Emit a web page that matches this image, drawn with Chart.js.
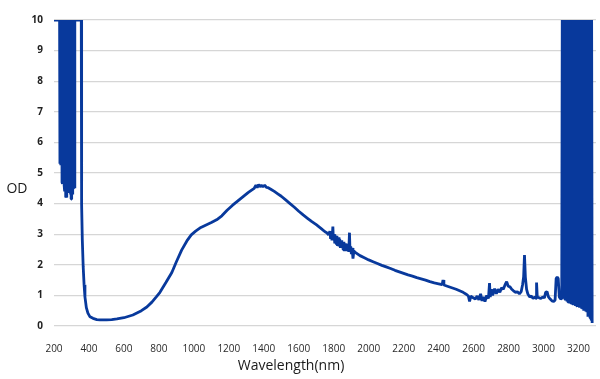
<!DOCTYPE html>
<html><head><meta charset="utf-8">
<script src="https://cdn.jsdelivr.net/npm/chart.js@4/dist/chart.umd.min.js"></script>
<style>html,body{margin:0;padding:0;background:#fff;}</style>
</head><body>
<canvas id="c" width="600" height="379"></canvas>
<script>
// UV cut-off region (saturated, noisy band)
const uvNm = [200,215,232,234,236,238,240,242,244,246,248,250,252,254,256,258,260,262,264,266,268,270,272,274,276,278,280,282,284,286,288,290,292,294,296,298,300,302,304,306,308,310,312,314,316,318,320,340,356];
const uvOd = [10,10,10,5.3,10,5.25,10,5.3,10,4.7,10,4.65,10,4.7,10,4.6,10,4.4,10,4.2,10,4.25,10,4.2,10,4.35,10,4.5,10,4.5,10,4.45,10,4.3,10,4.15,10,4.15,10,4.3,10,4.5,10,4.55,10,4.5,10,10,10];
// Main absorption curve
const mainNm = [358,362,367,372,377,385,394,406,423,445,463,500,530,560,600,651,700,731,760,785,806,840,874,900,930,960,985,1010,1040,1070,1100,1130,1160,1190,1220,1250,1280,1310,1330,1345,1355,1362,1370,1378,1386,1395,1405,1415,1425,1440,1460,1480,1500,1525,1550,1575,1600,1625,1650,1675,1700,1725,1750];
const mainOd = [3.95,2.8,1.93,1.35,0.95,0.6,0.42,0.3,0.25,0.21,0.2,0.2,0.21,0.23,0.27,0.36,0.5,0.62,0.78,0.95,1.1,1.42,1.75,2.1,2.48,2.78,2.98,3.1,3.22,3.3,3.38,3.47,3.6,3.78,3.94,4.08,4.22,4.36,4.44,4.5,4.6,4.52,4.62,4.55,4.6,4.55,4.6,4.53,4.52,4.47,4.4,4.32,4.24,4.12,4.0,3.88,3.75,3.63,3.52,3.41,3.31,3.2,3.08];
// Noisy section around 1800 nm
const noiseNm = [1760,1770,1778,1782,1786,1790,1795,1798,1802,1806,1810,1814,1818,1822,1826,1830,1834,1838,1842,1846,1850,1854,1858,1862,1866,1870,1874,1878,1882,1886,1890,1893,1897,1901,1905,1910,1915,1925];
const noiseOd = [3.05,2.98,3.1,2.85,3.05,2.8,3.25,2.8,3.0,2.7,2.95,2.68,2.95,2.62,2.9,2.6,2.85,2.55,2.8,2.55,2.75,2.5,2.75,2.45,2.7,2.48,2.68,2.45,2.65,2.42,3.05,2.45,2.6,2.35,2.55,2.2,2.45,2.4];
// Tail towards mid-IR
const tailNm = [1950,1975,2000,2025,2050,2075,2100,2125,2150,2175,2200,2225,2250,2275,2300,2325,2350,2375,2400,2420,2425,2430,2450,2475,2500,2520,2540,2560,2570,2577,2584,2595,2610,2620,2630,2640,2648,2656,2665,2675,2685,2691,2695,2702,2709,2720,2730,2740,2750,2760,2770,2780,2789,2798,2808,2818,2828,2840,2850,2862,2872,2880,2886,2891,2896,2903,2910,2920,2930,2940,2950,2957,2960,2964,2975,2985,2995,3005,3012,3020,3028,3038,3048,3058,3066,3072,3078,3084,3090,3098,3104,3107,3116,3120,3127];
const tailOd = [2.3,2.23,2.16,2.1,2.04,1.98,1.93,1.88,1.82,1.77,1.72,1.67,1.63,1.58,1.54,1.5,1.45,1.41,1.38,1.35,1.5,1.34,1.3,1.25,1.2,1.15,1.1,1.03,0.98,0.8,0.98,0.93,0.88,0.98,0.85,1.05,0.82,0.95,0.8,1.0,0.9,1.4,0.95,1.2,1.0,1.22,1.05,1.2,1.1,1.25,1.2,1.35,1.45,1.3,1.28,1.2,1.15,1.1,1.12,1.05,1.12,1.35,1.6,2.32,1.6,1.2,1.05,0.95,0.98,0.9,0.95,0.9,1.42,0.95,0.92,0.9,0.95,0.92,1.1,1.12,0.95,0.88,0.82,0.8,0.85,1.55,1.6,1.55,0.95,0.88,0.9,10,10,0.9,0.85];
// Mid-IR saturated noisy band
const mirNm = [3131,3134,3137,3140,3143,3146,3149,3152,3155,3158,3161,3164,3167,3170,3173,3176,3179,3182,3185,3188,3191,3194,3197,3200,3203,3206,3209,3212,3215,3218,3221,3224,3227,3230,3233,3236,3239,3242,3245,3248,3251,3254,3257,3260,3263,3266,3269,3272,3275,3278];
const mirOd = [10,0.8,10,0.78,10,0.85,10,0.76,10,0.8,10,0.72,10,0.75,10,0.7,10,0.72,10,0.66,10,0.68,10,0.62,10,0.6,10,0.64,10,0.56,10,0.55,10,0.5,10,0.52,10,0.47,10,0.45,10,0.3,10,0.4,10,0.26,10,0.2,10,0.1];

const xTicks = [200,400,600,800,1000,1200,1400,1600,1800,2000,2200,2400,2600,2800,3000,3200];
const yTicks = [0,1,2,3,4,5,6,7,8,9,10];
const xTitle = 'Wavelength(nm)';
const yTitle = 'OD';

const wavelength = [].concat(uvNm, mainNm, noiseNm, tailNm, mirNm);
const od = [].concat(uvOd, mainOd, noiseOd, tailOd, mirOd);
const points = wavelength.map((w, i) => ({x: w, y: od[i]}));

const titles = {
  id: 'titles',
  afterDraw(chart) {
    const ctx = chart.ctx;
    ctx.save();
    ctx.fillStyle = '#1a1a1a';
    ctx.font = '14px "Open Sans"';
    ctx.textAlign = 'center';
    ctx.textBaseline = 'middle';
    ctx.fillText(yTitle, 17, 189);
    ctx.fillText(xTitle, 291, 366);
    ctx.restore();
  }
};

new Chart(document.getElementById('c'), {
  type: 'line',
  data: { datasets: [{
    data: points,
    borderColor: '#08399c',
    borderWidth: 2.8,
    pointRadius: 0,
    tension: 0,
    fill: false,
    borderJoinStyle: 'bevel'
  }]},
  options: {
    responsive: false,
    animation: false,
    parsing: false,
    layout: { padding: { top: 20, right: 4, bottom: 0, left: 0 } },
    plugins: { legend: { display: false }, tooltip: { enabled: false } },
    scales: {
      x: {
        type: 'linear', min: 200, max: 3300,
        afterBuildTicks: s => { s.ticks = xTicks.map(v => ({value: v})); },
        afterFit: s => { s.height = 53; },
        grid: { display: false }, border: { display: false },
        ticks: { padding: 9, color: '#2a2a2a', autoSkip: false, maxRotation: 0,
                 callback: v => String(v),
                 font: { family: 'Open Sans', size: 10 } }
      },
      y: {
        min: 0, max: 10,
        afterBuildTicks: s => { s.ticks = yTicks.map(v => ({value: v})); },
        afterFit: s => { s.width = 54; },
        grid: { color: '#d6d6d6', lineWidth: 1.3, drawTicks: false },
        border: { display: false },
        ticks: { padding: 11, color: '#222', callback: v => String(v),
                 font: { family: 'Open Sans', size: 10, weight: 'bold' } }
      }
    }
  },
  plugins: [titles]
});
</script>
</body></html>
